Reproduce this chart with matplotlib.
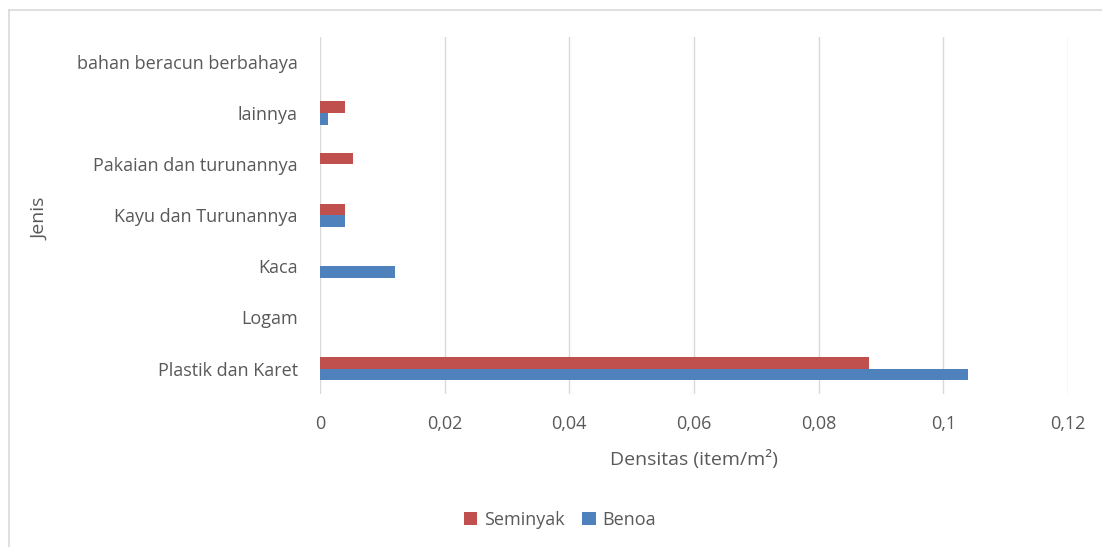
import matplotlib
matplotlib.use("Agg")
import matplotlib.pyplot as plt
import numpy as np
from matplotlib.lines import Line2D

plt.rcParams['font.family'] = ['Open Sans', 'DejaVu Sans']

categories = ["Plastik dan Karet", "Logam", "Kaca", "Kayu dan Turunannya",
              "Pakaian dan turunannya", "lainnya", "bahan beracun berbahaya"]
seminyak = [0.088, 0, 0, 0.004, 0.0053, 0.004, 0]
benoa = [0.104, 0, 0.012, 0.004, 0, 0.0013, 0]
xticks = [0, 0.02, 0.04, 0.06, 0.08, 0.1, 0.12]
xticklabels = ["0", "0,02", "0,04", "0,06", "0,08", "0,1", "0,12"]

txt = "#595959"
red = "#C0504D"
blue = "#4F81BD"

fig = plt.figure(figsize=(11.02, 5.47), dpi=100)
ax = fig.add_axes([0.2904, 0.2797, 0.6787, 0.6527])

y = np.arange(len(categories))
h = 0.235
ax.barh(y + h / 2, seminyak, height=h, color=red, label="Seminyak", zorder=3)
ax.barh(y - h / 2, benoa, height=h, color=blue, label="Benoa", zorder=3)

ax.set_xlim(0, 0.12)
ax.set_ylim(-0.5, len(categories) - 0.5)
ax.set_xticks(xticks)
ax.set_xticklabels(xticklabels)
ax.set_yticks(y)
ax.set_yticklabels(categories)
ax.tick_params(axis='both', length=0, colors=txt, labelsize=13)
ax.tick_params(axis='x', pad=15)
ax.tick_params(axis='y', pad=16)
ax.grid(axis='x', color="#D9D9D9", linewidth=1, zorder=0)
for s in ax.spines.values():
    s.set_visible(False)

ax.set_xlabel("Densitas (item/m²)", color=txt, fontsize=14, labelpad=12)
fig.text(0.037, 0.6, "Jenis", rotation=90, color=txt, fontsize=14,
         ha='center', va='center')

leg = fig.legend(loc='center', bbox_to_anchor=(0.508, 0.05), ncol=2,
                 frameon=False, fontsize=13, handlelength=0.75, handleheight=0.75,
                 handletextpad=0.35, columnspacing=1.0)
for t in leg.get_texts():
    t.set_color(txt)

# outer chart frame (top and left only)
fig.add_artist(Line2D([9 / 1102, 1], [1 - 10 / 547, 1 - 10 / 547],
                      transform=fig.transFigure, color="#D9D9D9", lw=1.2))
fig.add_artist(Line2D([9 / 1102, 9 / 1102], [0, 1 - 10 / 547],
                      transform=fig.transFigure, color="#D9D9D9", lw=1.2))

fig.savefig("out.png", dpi=100)
